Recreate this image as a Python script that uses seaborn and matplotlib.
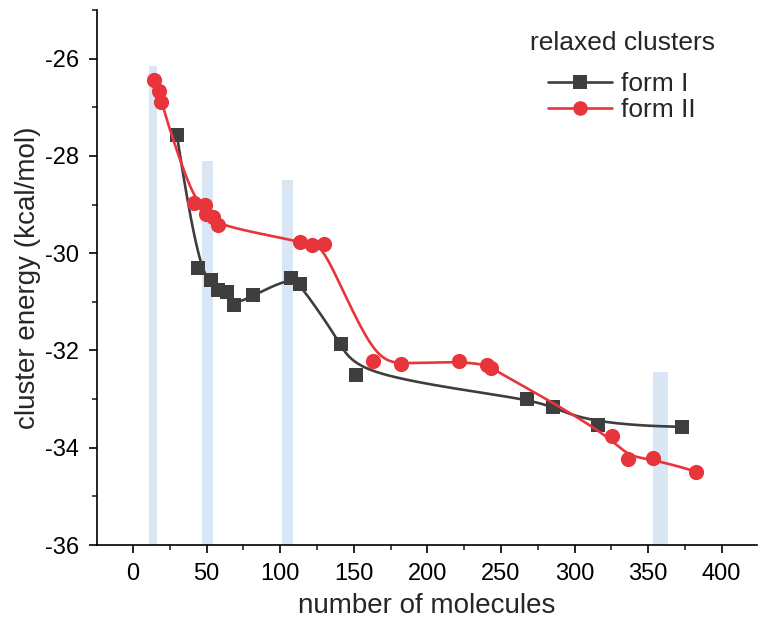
import numpy as np
import pandas as pd
import matplotlib
matplotlib.use("Agg")
import matplotlib.pyplot as plt
from matplotlib.lines import Line2D
from matplotlib.ticker import MultipleLocator
import seaborn as sns

# ---------------- data ----------------
form1_n = [29.7, 43.8, 53.3, 57.9, 63.6, 68.4, 81.7, 107.0, 113.6, 141.6,
           151.4, 267.4, 285.4, 315.7, 373.3]
form1_e = [-27.56, -30.31, -30.56, -30.76, -30.80, -31.07, -30.87, -30.50,
           -30.64, -31.87, -32.50, -32.99, -33.16, -33.54, -33.57]

form2_n = [14.3, 17.7, 18.8, 41.3, 48.9, 49.6, 54.0, 57.6, 113.4, 121.4,
           129.5, 163.2, 182.2, 221.5, 240.4, 243.1, 325.2, 336.4, 353.3, 382.3]
form2_e = [-26.44, -26.67, -26.90, -28.96, -29.00, -29.19, -29.26, -29.43,
           -29.76, -29.83, -29.82, -32.21, -32.28, -32.22, -32.30, -32.36,
           -33.75, -34.24, -34.22, -34.49]

band_n = [13.5, 50.8, 104.7, 358.5]
band_top = [-26.15, -28.1, -28.5, -32.45]

series_names = ["form I", "form II"]
legend_title = "relaxed clusters"
x_label = "number of molecules"
y_label = "cluster energy (kcal/mol)"

# ---------------- styles ----------------
GRAY = "#3E3E3E"
RED = "#E8353B"
BAND = "#D9E7F5"
band_widths = [5.5, 7.5, 7.5, 10.0]
Y_FLOOR = -36


def bspline_curve(xs, ys, k=3, n=400):
    """Clamped uniform B-spline using the data points as control points
    (the line style used by the original plotting software)."""
    P = np.column_stack([xs, ys]).astype(float)
    m = len(P)
    k = min(k, m - 1)
    nseg = m - k
    knots = np.concatenate([np.zeros(k), np.arange(nseg + 1), np.full(k, nseg)]).astype(float)
    t = np.linspace(0, nseg - 1e-9, n)

    def N(i, d):
        if d == 0:
            return ((knots[i] <= t) & (t < knots[i + 1])).astype(float)
        out = np.zeros_like(t)
        den1 = knots[i + d] - knots[i]
        den2 = knots[i + d + 1] - knots[i + 1]
        if den1 > 0:
            out += (t - knots[i]) / den1 * N(i, d - 1)
        if den2 > 0:
            out += (knots[i + d + 1] - t) / den2 * N(i + 1, d - 1)
        return out

    B = np.column_stack([N(i, k) for i in range(m)])
    C = B @ P
    return C[:, 0], C[:, 1]


sns.set_style("ticks")
plt.rcParams["font.family"] = ["Liberation Sans", "DejaVu Sans"]
plt.rcParams["axes.unicode_minus"] = False

fig = plt.figure(figsize=(7.6, 6.28), dpi=100)
ax = fig.add_axes([97 / 760, 1 - 545 / 628, 660 / 760, 535 / 628])

# background bands
ax.bar(band_n, np.array(band_top) - Y_FLOOR, bottom=Y_FLOOR, width=band_widths,
       color=BAND, edgecolor="none", zorder=1)

# smoothed connecting lines
cx1, cy1 = bspline_curve(form1_n, form1_e)
cx2, cy2 = bspline_curve(form2_n, form2_e)
sns.lineplot(x=cx1, y=cy1, sort=False, color=GRAY, lw=1.9, ax=ax, zorder=3)
sns.lineplot(x=cx2, y=cy2, sort=False, color=RED, lw=1.9, ax=ax, zorder=5)

# markers
sns.scatterplot(x=form1_n, y=form1_e, marker="s", s=95, color=GRAY,
                edgecolor=GRAY, linewidth=0, ax=ax, zorder=4)
sns.scatterplot(x=form2_n, y=form2_e, marker="o", s=120, color=RED,
                edgecolor=RED, linewidth=0, ax=ax, zorder=6)

ax.set_xlim(-24.5, 424)
ax.set_ylim(-36, -25)
ax.set_xticks(np.arange(0, 401, 50))
ax.set_yticks(np.arange(-36, -25, 2))
ax.xaxis.set_minor_locator(MultipleLocator(25))
ax.yaxis.set_minor_locator(MultipleLocator(1))
ax.tick_params(axis="both", which="major", direction="out", length=6, width=1.2,
               labelsize=17, colors="black", pad=7)
ax.tick_params(axis="both", which="minor", direction="out", length=3.5, width=1.2)
for s in ["top", "right"]:
    ax.spines[s].set_visible(False)
for s in ["left", "bottom"]:
    ax.spines[s].set_linewidth(1.2)
    ax.spines[s].set_color("black")

ax.set_xlabel(x_label, fontsize=20, labelpad=6)
ax.set_ylabel(y_label, fontsize=20, labelpad=3)

handles = [
    Line2D([], [], color=GRAY, lw=1.9, marker="s", markersize=9.5, markeredgewidth=0),
    Line2D([], [], color=RED, lw=1.9, marker="o", markersize=10.5, markeredgewidth=0),
]
leg = ax.legend(handles, series_names, title=legend_title, frameon=False,
                loc="upper center", bbox_to_anchor=(622 / 760, 1 - 13 / 628),
                bbox_transform=fig.transFigure, fontsize=19, title_fontsize=19,
                handlelength=2.4, handletextpad=0.35, labelspacing=0.08,
                borderpad=0.2)
leg._legend_box.sep = 12

fig.savefig("out.png", dpi=100)
